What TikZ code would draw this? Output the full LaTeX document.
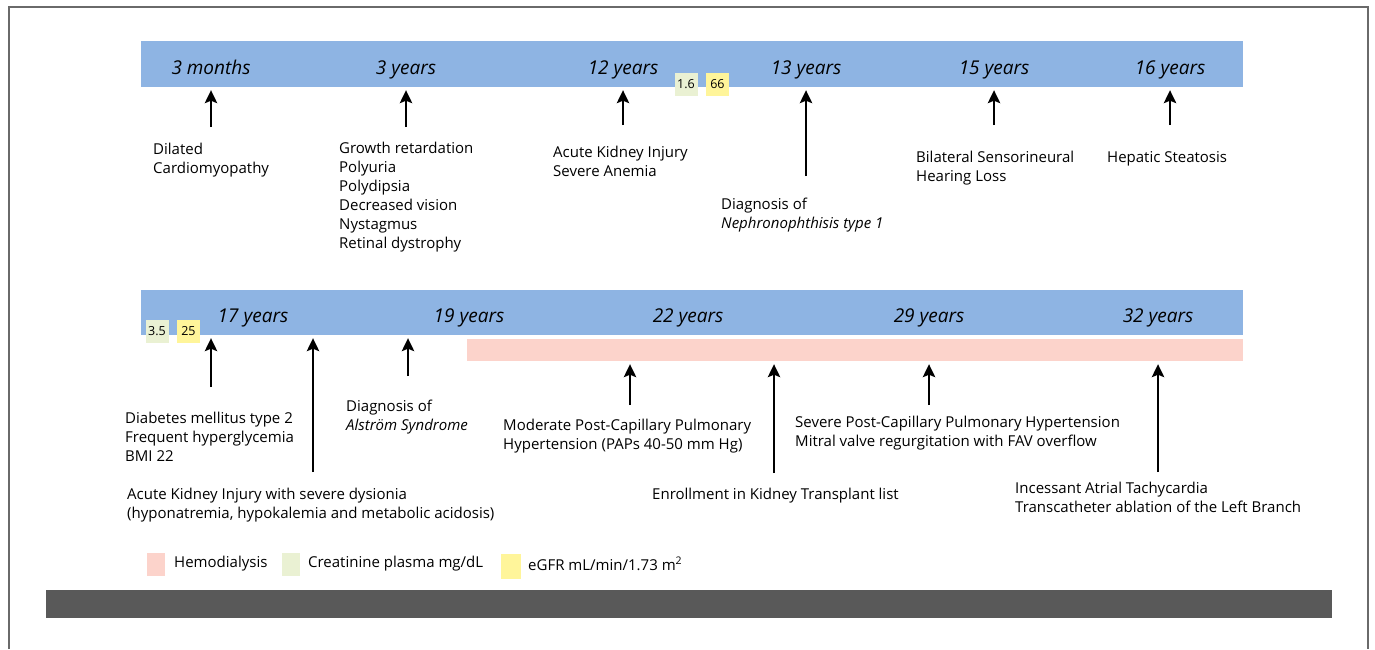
\documentclass[tikz,border=0pt]{standalone}
\usepackage{fontspec}
\setmainfont{Open Sans}
\usepackage{tikz}
\usetikzlibrary{positioning, calc, arrows.meta}

\definecolor{barblue}{HTML}{8EB4E3}
\definecolor{hdpink}{HTML}{FCD3CB}
\definecolor{crgreen}{HTML}{EAF1D3}
\definecolor{gfryellow}{HTML}{FFF59A}
\definecolor{footgray}{HTML}{595959}
\definecolor{framegray}{HTML}{6A6A6A}

\begin{document}
\begin{tikzpicture}[
        x=1pt, y=-1pt,
        >=Stealth,
        % Styling the timeline bars and the small lab value boxes
        bar/.style={fill=barblue, draw=none, inner sep=0pt, minimum height=46pt},
        year/.style={anchor=base, inner sep=0pt, font=\fontsize{19}{22}\selectfont\itshape},
        event/.style={anchor=base west, align=left, inner sep=0pt, font=\fontsize{15}{19}\selectfont},
        labval/.style={inner sep=0pt, minimum width=23pt, minimum height=23pt, font=\fontsize{12.5}{14}\selectfont},
        evarrow/.style={->, line width=1.6pt, shorten >=3pt, >={Stealth[length=13pt,width=12.5pt,inset=2.5pt]}},
        legbox/.style={inner sep=0pt, minimum width=18pt, minimum height=23pt}
    ]

    \useasboundingbox (0,0) rectangle (1375,649);

    % --- Frame and footer ---
    \draw[framegray, line width=2pt] (9,649) -- (9,7) -- (1368,7) -- (1368,649);
    \node[fill=footgray, inner sep=0pt, minimum width=1286pt, minimum height=28pt] (footer) at (689,604) {};

    % --- Top timeline ---
    \node[bar, minimum width=1102pt] (topbar) at (692,64) {};
    \node[year] (y1) at (211,74) {3 months};
    \node[year] (y2) at (406,74) {3 years};
    \node[year] (y3) at (623,74) {12 years};
    \node[year] (y4) at (806,74) {13 years};
    \node[year] (y5) at (994,74) {15 years};
    \node[year] (y6) at (1170,74) {16 years};

    \node[labval, fill=crgreen] (cr1) at (686,84) {1.6};
    \node[labval, fill=gfryellow, right=8pt of cr1] (gf1) {66};

    % Events below the top bar (base = last line)
    \node[event] (e1) at (153,173) {Dilated\\Cardiomyopathy};
    \node[event] (e2) at (339,248) {Growth retardation\\Polyuria\\Polydipsia\\Decreased vision\\Nystagmus\\Retinal dystrophy};
    \node[event] (e3) at (553,176) {Acute Kidney Injury\\Severe Anemia};
    \node[event] (e4) at (721,228) {Diagnosis of\\\textit{Nephronophthisis type 1}};
    \node[event] (e5) at (916,181) {Bilateral Sensorineural\\Hearing Loss};
    \node[event] (e6) at (1107,162) {Hepatic Steatosis};

    \coordinate (t1) at (211,127);
    \coordinate (t2) at (406,127);
    \coordinate (t3) at (623,125);
    \coordinate (t4) at (806,176);
    \coordinate (t5) at (994,125);
    \coordinate (t6) at (1170,125);
    \foreach \t in {t1,t2,t3,t4,t5,t6}
        \draw[evarrow] (\t) -- (\t |- topbar.south);

    % --- Bottom timeline ---
    \node[bar, minimum width=1102pt, minimum height=45pt] (botbar) at (692,312.5) {};
    \node[fill=hdpink, inner sep=0pt, minimum width=776pt, minimum height=22pt] (hd) at (855,350) {};
    \node[year] (y7) at (253,322) {17 years};
    \node[year] (y8) at (469,322) {19 years};
    \node[year] (y9) at (688,322) {22 years};
    \node[year] (y10) at (929,322) {29 years};
    \node[year] (y11) at (1158,322) {32 years};

    \node[labval, fill=crgreen] (cr2) at (157,331) {3.5};
    \node[labval, fill=gfryellow, right=8pt of cr2] (gf2) {25};

    % Events below the bottom bar
    \node[event] (e7) at (125,461) {Diabetes mellitus type 2\\Frequent hyperglycemia\\BMI 22};
    \node[event] (e8) at (127,518) {Acute Kidney Injury with severe dysionia\\(hyponatremia, hypokalemia and metabolic acidosis)};
    \node[event] (e9) at (346,430) {Diagnosis of\\\textit{Alstr\"om Syndrome}};
    \node[event] (e10) at (503,449) {Moderate Post-Capillary Pulmonary\\Hypertension (PAPs 40-50 mm Hg)};
    \node[event] (e11) at (652,499) {Enrollment in Kidney Transplant list};
    \node[event] (e12) at (795,446) {Severe Post-Capillary Pulmonary Hypertension\\Mitral valve regurgitation with FAV overflow};
    \node[event] (e13) at (1015,512) {Incessant Atrial Tachycardia\\Transcatheter ablation of the Left Branch};

    \coordinate (t7) at (211,387);
    \coordinate (t8) at (313,472);
    \coordinate (t9) at (408,376);
    \foreach \t in {t7,t8,t9}
        \draw[evarrow] (\t) -- (\t |- botbar.south);
    \coordinate (t10) at (630,405);
    \coordinate (t11) at (774,473);
    \coordinate (t12) at (929,405);
    \coordinate (t13) at (1158,472);
    \foreach \t in {t10,t11,t12,t13}
        \draw[evarrow] (\t) -- (\t |- hd.south);

    % --- Legend ---
    \node[legbox, fill=hdpink] (lg1) at (156,564) {};
    \node[event, anchor=base west] (lt1) at (174,567) {Hemodialysis};
    \node[legbox, fill=crgreen] (lg2) at (291,564) {};
    \node[event, anchor=base west] (lt2) at (308,567) {Creatinine plasma mg/dL};
    \node[legbox, fill=gfryellow, minimum width=20pt, minimum height=25pt] (lg3) at (511,566) {};
    \node[event, anchor=base west] (lt3) at (528,570) {eGFR mL/min/1.73 m\textsuperscript{2}};

    \end{tikzpicture}
\end{document}
